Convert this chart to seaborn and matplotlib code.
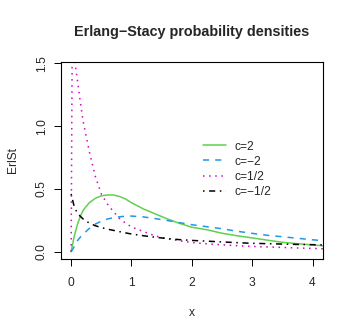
import numpy as np
import pandas as pd
import matplotlib
matplotlib.use("Agg")
import matplotlib.pyplot as plt
import seaborn as sns
from matplotlib.lines import Line2D

# ---- data ----
x_vals = [0.0, 0.02, 0.05, 0.1, 0.15, 0.2, 0.3, 0.4, 0.5, 0.6, 0.7, 0.8, 0.9, 1.0,
          1.2, 1.4, 1.6, 1.8, 2.0, 2.25, 2.5, 2.75, 3.0, 3.25, 3.5, 3.75, 4.0, 4.2]
c_2 = [0.0, 0.05, 0.12, 0.21, 0.28, 0.33, 0.39, 0.425, 0.445, 0.452, 0.452, 0.44,
       0.42, 0.39, 0.34, 0.30, 0.26, 0.225, 0.195, 0.175, 0.147, 0.127, 0.11,
       0.092, 0.075, 0.064, 0.054, 0.046]
c_m2 = [0.0, 0.015, 0.04, 0.085, 0.115, 0.14, 0.185, 0.22, 0.243, 0.26, 0.271, 0.278,
        0.283, 0.284, 0.277, 0.263, 0.248, 0.231, 0.215, 0.199, 0.183, 0.163, 0.146,
        0.131, 0.119, 0.107, 0.095, 0.087]
c_half = [0.0, 1.9, 1.55, 1.38, 1.2, 1.035, 0.8, 0.6, 0.46, 0.38, 0.32, 0.265, 0.228,
          0.197, 0.16, 0.125, 0.103, 0.087, 0.073, 0.063, 0.055, 0.048, 0.042, 0.038,
          0.034, 0.030, 0.026, 0.023]
c_mhalf = [0.46, 0.42, 0.36, 0.31, 0.283, 0.26, 0.228, 0.207, 0.192, 0.18, 0.17, 0.16,
           0.15, 0.141, 0.127, 0.115, 0.104, 0.096, 0.09, 0.084, 0.078, 0.072, 0.067,
           0.064, 0.061, 0.058, 0.056, 0.054]
labels = ["c=2", "c=\u22122", "c=1/2", "c=\u22121/2"]
x_ticks = [0, 1, 2, 3, 4]
y_ticks = [0.0, 0.5, 1.0, 1.5]
y_tick_labels = ["0.0", "0.5", "1.0", "1.5"]

df = pd.DataFrame({
    "x": x_vals * 4,
    "y": c_2 + c_m2 + c_half + c_mhalf,
    "series": sum([[lab] * len(x_vals) for lab in labels], []),
})

sns.set_style("white")
plt.rcParams["font.family"] = ["Liberation Sans", "DejaVu Sans"]

W, H = 354, 336
fig = plt.figure(figsize=(W / 100, H / 100), dpi=100)
ax = fig.add_axes([61 / W, 1 - 259 / H, (322.7 - 61) / W, (259 - 61.7) / H])

palette = {labels[0]: "#61D04F", labels[1]: "#2297E6", labels[2]: "#CD0BBC", labels[3]: "#000000"}
dashes = {labels[0]: "", labels[1]: (4, 4), labels[2]: (1, 3), labels[3]: (1, 3, 4, 3)}
lw = 1.1
sns.lineplot(data=df, x="x", y="y", hue="series", style="series", palette=palette,
             dashes=dashes, linewidth=lw, ax=ax, sort=False, estimator=None, legend=False)

ax.set_xlim(-0.168, 4.168)
ax.set_ylim(-0.058, 1.513)
ax.set_xticks(x_ticks)
ax.set_xticklabels([str(t) for t in x_ticks])
ax.set_yticks(y_ticks)
ax.set_yticklabels(y_tick_labels, rotation=90, va="center")
ax.tick_params(axis="both", direction="out", length=5, width=0.7, labelsize=8.64,
               color="black", left=True, bottom=True)
ax.tick_params(axis="x", pad=7.6)
ax.tick_params(axis="y", pad=4.6)
for s in ax.spines.values():
    s.set_color("black")
    s.set_linewidth(0.8)
ax.set_xlabel("x", fontsize=8.64, labelpad=13.5)
ax.set_ylabel("ErlSt", fontsize=8.64, labelpad=12)

fig.text(191.9 / W, 1 - 31.7 / H, "Erlang\u2212Stacy probability densities",
         ha="center", va="center", fontsize=10.4, fontweight="bold")

handles = []
for l in labels:
    h = Line2D([], [], color=palette[l], lw=lw)
    if dashes[l]:
        h.set_dashes(dashes[l])
    handles.append(h)
leg = fig.legend(handles, labels, loc="upper left", bbox_to_anchor=(202.7 / W, 1 - 140.5 / H),
                 frameon=False, fontsize=8.64, handlelength=1.94, handletextpad=0.75,
                 labelspacing=0.26, borderpad=0, borderaxespad=0)

fig.savefig("out.png", dpi=100)
